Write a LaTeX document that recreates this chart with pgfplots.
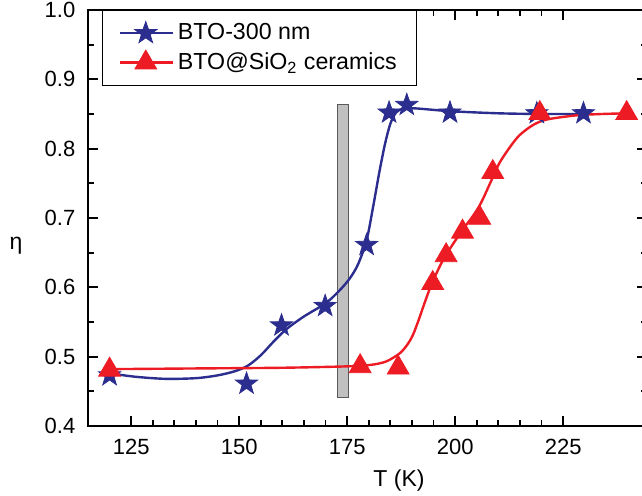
\documentclass[border=0pt]{standalone}
\usepackage{fontspec}
\setmainfont{Liberation Sans}
\usepackage{pgfplots}
\pgfplotsset{compat=1.18}
\definecolor{bblue}{RGB}{43,46,142}
\definecolor{rred}{RGB}{237,28,36}
\definecolor{bargray}{RGB}{192,192,192}
\pgfdeclareplotmark{fstar}{%
  \pgfpathmoveto{\pgfpointpolar{90}{\pgfplotmarksize}}%
  \pgfpathlineto{\pgfpointpolar{126}{0.40\pgfplotmarksize}}%
  \pgfpathlineto{\pgfpointpolar{162}{\pgfplotmarksize}}%
  \pgfpathlineto{\pgfpointpolar{198}{0.40\pgfplotmarksize}}%
  \pgfpathlineto{\pgfpointpolar{234}{\pgfplotmarksize}}%
  \pgfpathlineto{\pgfpointpolar{270}{0.40\pgfplotmarksize}}%
  \pgfpathlineto{\pgfpointpolar{306}{\pgfplotmarksize}}%
  \pgfpathlineto{\pgfpointpolar{342}{0.40\pgfplotmarksize}}%
  \pgfpathlineto{\pgfpointpolar{18}{\pgfplotmarksize}}%
  \pgfpathlineto{\pgfpointpolar{54}{0.40\pgfplotmarksize}}%
  \pgfpathclose
  \pgfusepathqfillstroke}
\begin{document}
\begin{tikzpicture}
\begin{axis}[
  scale only axis,
  width=279.7pt, height=208pt,
  xmin=115, xmax=244.5, ymin=0.4, ymax=1.0,
  xtick={125,150,175,200,225},
  ytick={0.4,0.5,0.6,0.7,0.8,0.9,1.0},
  minor x tick num=4, minor y tick num=1,
  tick align=inside,
  major tick length=5pt, minor tick length=3.2pt,
  every tick/.style={black, line width=0.9pt},
  axis line style={line width=1.1pt},
  /pgf/number format/assume math mode=true,
  yticklabel style={/pgf/number format/fixed, /pgf/number format/fixed zerofill, /pgf/number format/precision=1, xshift=-2.8pt},
  xticklabel style={yshift=-3.2pt},
  tick label style={font=\fontsize{11}{13}\selectfont},
  label style={font=\fontsize{11.5}{13}\selectfont},
  xlabel={T (K)},
  xlabel style={at={(axis cs:187,0.4)}, anchor=north, yshift=-18.5pt},
  ylabel={η},
  ylabel style={at={(axis cs:115,0.66)}, anchor=center, rotate=-90, xshift=-36pt},
  legend style={at={(rel axis cs:0.025,1)}, anchor=north west, draw=black, line width=0.6pt,
    font=\fontsize{11.6}{14}\selectfont, row sep=1pt, inner xsep=8pt, inner ysep=4.5pt},
  legend cell align=left,
  legend image code/.code={\draw[mark repeat=2,mark phase=2] plot coordinates {(0pt,0pt) (13pt,0pt) (26.5pt,0pt)};},
]
\coordinate (sw) at (rel axis cs:0,0);
\coordinate (ne) at (rel axis cs:1,1);
% gray bar
\addplot[fill=bargray, draw=black!65, line width=0.5pt, forget plot] coordinates {(172.7,0.441) (175.4,0.441) (175.4,0.863) (172.7,0.863)} --cycle;
% fitted curves
\addplot[bblue, line width=1.2pt, smooth, tension=0.5, forget plot] coordinates {
(120,0.476) (126,0.471) (133,0.468) (140,0.469) (145,0.473) (149,0.479) (152,0.487) (155,0.502) (158,0.522) (161,0.540) (165,0.558) (170,0.577) (173,0.594) (175.5,0.612) (177.5,0.633) (179.5,0.668) (181,0.716) (182.5,0.768) (183.8,0.808) (185,0.836) (186.3,0.852) (188,0.858) (191,0.858) (199,0.854) (210,0.851) (220,0.850) (232,0.850)};
\addplot[rred, line width=1.2pt, smooth, tension=0.5, forget plot] coordinates {
(120,0.482) (140,0.483) (160,0.484) (175,0.486) (180.3,0.488) (184,0.493) (187.2,0.505) (189,0.518) (190.2,0.531) (191.5,0.552) (192.5,0.570) (194,0.596) (195.5,0.618) (197.6,0.644) (201.5,0.681) (204,0.702) (206,0.722) (208.8,0.760) (210.4,0.781) (213,0.805) (215,0.820) (218,0.834) (221.2,0.842) (228,0.848) (234,0.850) (240,0.851)};
% data markers
\addplot[only marks, mark=fstar, mark size=5.8pt, color=bblue, mark options={fill=bblue, line width=0.4pt}, forget plot] coordinates {
(120,0.473) (151.7,0.461) (159.8,0.545) (169.9,0.573) (179.5,0.661) (184.7,0.852) (188.8,0.863) (198.8,0.852) (218.9,0.851) (229.7,0.851)};
\addplot[only marks, mark=triangle*, mark size=6.3pt, color=rred, mark options={fill=rred, line width=0.4pt}, forget plot] coordinates {
(120,0.481) (178,0.486) (186.8,0.484) (194.8,0.606) (197.9,0.646) (201.7,0.680) (205.7,0.700) (208.7,0.766) (219.6,0.851) (239.7,0.851)};
\addlegendimage{color=bblue, line width=1.2pt, mark=fstar, mark size=5.8pt, mark options={fill=bblue, line width=0.4pt}}
\addlegendentry{BTO-300 nm}
\addlegendimage{color=rred, line width=1.2pt, mark=triangle*, mark size=6.3pt, mark options={fill=rred, line width=0.4pt}}
\addlegendentry{BTO@SiO\textsubscript{2} ceramics}
\end{axis}
\pgfresetboundingbox
\path ([shift={(-44pt,-35pt)}]sw) rectangle ([shift={(277pt,5pt)}]sw |- ne);
\end{tikzpicture}
\end{document}
